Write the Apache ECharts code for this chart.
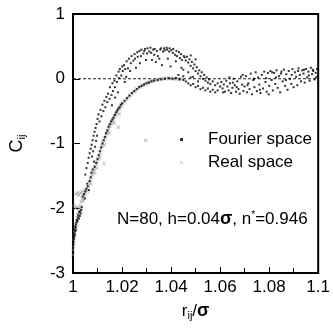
<!DOCTYPE html>
<html>
<head>
<meta charset="utf-8">
<script src="https://cdn.jsdelivr.net/npm/echarts@6/dist/echarts.min.js"></script>
<style>
html,body{margin:0;padding:0;background:#fff;}
#c{width:333px;height:330px;}
</style>
</head>
<body>
<div id="c"></div>
<script>
var xTicks = [1, 1.02, 1.04, 1.06, 1.08, 1.1];
var yTicks = [-3, -2, -1, 0, 1];
var seriesNames = ['Fourier space', 'Real space'];
var zeroLine = [[1, 0], [1.1, 0]];

var fourierSpace = [
[1.0002,-2.52],[1.0004,-2.45],[1.0006,-2.40],[1.0005,-2.33],[1.0008,-2.36],[1.0010,-2.30],[1.0012,-2.25],[1.0009,-2.28],[1.0014,-2.22],[1.0016,-2.18],[1.0018,-2.20],[1.0020,-2.14],[1.0022,-2.10],[1.0024,-2.16],[1.0026,-2.06],[1.0028,-2.12],[1.0030,-2.04],[1.0032,-2.08],[1.0034,-2.02],[1.0036,-1.98],[1.0003,-2.48],[1.0007,-2.42],[1.0011,-2.34],[1.0001,-2.56],
[1.0040,-1.82],[1.0045,-1.78],[1.0050,-1.74],[1.0055,-1.70],[1.0060,-1.66],[1.0065,-1.72],[1.0048,-1.85],[1.0058,-1.62],[1.0068,-1.58],[1.0072,-1.52],
[1.0050,-1.48],[1.0055,-1.38],[1.0060,-1.30],[1.0064,-1.22],[1.0068,-1.15],[1.0072,-1.08],[1.0076,-1.02],[1.0080,-0.95],[1.0084,-0.88],[1.0088,-0.82],[1.0092,-0.76],[1.0096,-0.70],[1.0078,-1.20],[1.0082,-1.12],[1.0086,-1.28],[1.0090,-1.05],[1.0094,-0.96],[1.0098,-0.88],
[1.0075,-1.45],[1.0080,-1.40],[1.0088,-1.36],[1.0095,-1.30],[1.0100,-1.24],[1.0105,-1.18],[1.0110,-1.12],[1.0115,-1.06],[1.0120,-1.00],[1.0125,-0.95],[1.0130,-0.90],[1.0135,-0.84],[1.0140,-0.80],[1.0145,-0.74],[1.0150,-0.70],[1.0155,-0.66],[1.0160,-0.63],[1.0165,-0.60],[1.0170,-0.56],[1.0175,-0.52],[1.0180,-0.49],[1.0185,-0.46],[1.0190,-0.44],[1.0195,-0.40],[1.0200,-0.38],[1.0210,-0.34],[1.0220,-0.30],[1.0230,-0.26],[1.0240,-0.22],[1.0250,-0.19],[1.0260,-0.16],[1.0270,-0.13],[1.0280,-0.11],[1.0290,-0.09],[1.0300,-0.07],[1.0310,-0.06],[1.0320,-0.04],[1.0330,-0.03],[1.0345,-0.02],[1.0360,-0.01],[1.0375,0.00],[1.0390,0.01],[1.0405,0.00],[1.0420,0.01],[1.0435,-0.01],[1.0450,-0.02],
[1.0100,-0.62],[1.0104,-0.55],[1.0108,-0.66],[1.0112,-0.48],[1.0116,-0.58],[1.0120,-0.40],[1.0124,-0.50],[1.0128,-0.34],[1.0132,-0.44],[1.0136,-0.28],[1.0140,-0.36],
[1.0143,-0.23],[1.0149,-0.31],[1.0151,-0.13],[1.0157,-0.25],[1.0161,-0.07],[1.0163,-0.19],[1.0169,-0.03],[1.0171,-0.13],[1.0177,0.05],[1.0179,-0.05],[1.0186,0.11],[1.0187,0.01],[1.0191,0.15],[1.0197,0.05],[1.0201,0.19],[1.0159,-0.41],[1.0172,-0.29],[1.0183,-0.21],
[1.0203,0.12],[1.0208,0.21],[1.0213,0.15],[1.0219,0.27],[1.0224,0.16],[1.0228,0.31],[1.0236,0.24],[1.0239,0.35],[1.0246,0.28],[1.0251,0.38],[1.0253,0.31],[1.0262,0.41],[1.0264,0.34],[1.0271,0.43],[1.0277,0.35],[1.0279,0.45],[1.0287,0.39],[1.0291,0.43],[1.0294,0.46],[1.0302,0.39],[1.0217,0.03],[1.0233,0.12],[1.0257,0.17],[1.0273,0.24],[1.0298,0.29],[1.0211,-0.05],
[1.0304,0.47],[1.0311,0.42],[1.0316,0.48],[1.0319,0.40],[1.0327,0.45],[1.0331,0.37],[1.0333,0.46],[1.0342,0.43],[1.0346,0.35],[1.0352,0.31],[1.0356,0.45],[1.0358,0.47],[1.0367,0.42],[1.0371,0.47],[1.0374,0.44],[1.0382,0.48],[1.0384,0.45],[1.0392,0.42],[1.0394,0.47],[1.0401,0.44],[1.0407,0.40],[1.0409,0.46],[1.0416,0.37],[1.0422,0.43],[1.0424,0.35],[1.0432,0.41],[1.0436,0.32],[1.0441,0.38],[1.0444,0.29],[1.0452,0.35],[1.0322,0.29],[1.0338,0.26],[1.0363,0.21],[1.0387,0.31],[1.0398,0.19],[1.0419,0.27],[1.0442,0.17],
[1.0455,0.33],[1.0460,0.28],[1.0465,0.34],[1.0470,0.25],[1.0475,0.30],[1.0480,0.20],[1.0485,0.26],[1.0490,0.16],[1.0495,0.22],[1.0500,0.12],[1.0505,0.18],[1.0510,0.08],[1.0515,0.13],[1.0520,0.04],[1.0525,0.10],[1.0530,0.00],[1.0535,0.06],[1.0540,-0.03],[1.0545,0.02],[1.0550,-0.06],[1.0555,-0.01],[1.0560,-0.08],[1.0570,-0.04],[1.0580,-0.10],[1.0590,-0.07],[1.0470,0.10],[1.0490,0.03],[1.0510,-0.04],[1.0450,0.14],[1.0500,0.30],[1.0480,0.36],
[1.0460,-0.04],[1.0470,-0.07],[1.0480,-0.10],[1.0490,-0.08],[1.0500,-0.13],[1.0510,-0.11],[1.0520,-0.16],[1.0530,-0.14],[1.0540,-0.18],[1.0550,-0.15],[1.0560,-0.20],[1.0570,-0.17],[1.0580,-0.21],[1.0590,-0.18],[1.0600,-0.12],[1.0430,0.06],[1.0450,0.04],[1.0480,0.02],
[1.0605,-0.05],[1.0610,-0.15],[1.0615,-0.09],[1.0620,-0.20],[1.0625,-0.03],[1.0630,-0.12],[1.0635,-0.18],[1.0640,-0.07],[1.0645,-0.22],[1.0650,-0.14],[1.0655,0.00],[1.0660,-0.10],[1.0665,-0.20],[1.0670,-0.04],[1.0675,-0.16],[1.0680,-0.23],[1.0685,0.03],[1.0690,-0.09],[1.0695,-0.19],[1.0700,-0.12],[1.0612,-0.21],[1.0638,0.02],[1.0652,-0.06],[1.0668,-0.13],[1.0692,0.06],
[1.0705,0.04],[1.0710,-0.21],[1.0715,-0.07],[1.0720,-0.16],[1.0725,0.08],[1.0730,-0.24],[1.0735,-0.02],[1.0740,-0.13],[1.0745,0.10],[1.0750,-0.19],[1.0755,0.02],[1.0760,-0.09],[1.0765,-0.22],[1.0770,0.06],[1.0775,-0.15],[1.0780,0.11],[1.0785,-0.05],[1.0790,-0.20],[1.0795,0.09],[1.0800,-0.11],[1.0712,-0.10],[1.0738,0.00],[1.0762,-0.17],[1.0788,0.01],[1.0798,-0.24],
[1.0805,0.12],[1.0810,-0.02],[1.0815,-0.18],[1.0820,0.09],[1.0825,-0.08],[1.0830,0.13],[1.0835,-0.14],[1.0840,0.04],[1.0845,-0.21],[1.0850,0.11],[1.0855,-0.04],[1.0860,0.14],[1.0865,-0.11],[1.0870,0.07],[1.0875,-0.17],[1.0880,0.12],[1.0885,0.00],[1.0890,-0.08],[1.0895,0.15],[1.0900,-0.13],[1.0812,0.10],[1.0828,0.02],[1.0848,0.08],[1.0868,-0.02],[1.0892,0.06],
[1.0905,0.10],[1.0910,0.03],[1.0915,-0.10],[1.0920,0.16],[1.0925,0.06],[1.0930,-0.04],[1.0935,0.13],[1.0940,0.08],[1.0945,-0.06],[1.0950,0.15],[1.0955,0.02],[1.0960,0.11],[1.0965,-0.03],[1.0970,0.17],[1.0975,0.07],[1.0980,0.12],[1.0985,-0.01],[1.0990,0.09],[1.0995,0.15],[1.0998,0.04],[1.0918,0.12],[1.0942,0.14],[1.0962,0.05],[1.0978,0.14],[1.0992,0.02]
];

var realSpace = [
[1.0000,-2.72],[1.0000,-2.64],[1.0002,-2.58],[1.0003,-2.50],[1.0005,-2.44],[1.0007,-2.38],[1.0009,-2.32],[1.0011,-2.26],[1.0013,-2.30],[1.0015,-2.20],[1.0018,-2.16],[1.0021,-2.10],[1.0024,-2.05],[1.0027,-2.00],[1.0030,-1.96],
[1.0012,-1.78],[1.0018,-1.76],[1.0024,-1.80],[1.0030,-1.77],[1.0036,-1.74],[1.0042,-1.79],[1.0048,-1.72],[1.0004,-1.96],[1.0010,-2.00],[1.0016,-1.98],
[1.0034,-1.90],[1.0038,-1.86],[1.0042,-1.88],[1.0046,-1.82],[1.0050,-1.76],[1.0054,-1.70],[1.0058,-1.74],[1.0062,-1.66],[1.0066,-1.60],[1.0070,-1.56],[1.0074,-1.52],[1.0078,-1.48],[1.0082,-1.44],[1.0086,-1.40],[1.0090,-1.36],[1.0094,-1.32],[1.0098,-1.28],[1.0072,-1.62],[1.0088,-1.46],[1.0096,-1.38],
[1.0102,-1.24],[1.0106,-1.19],[1.0110,-1.14],[1.0114,-1.08],[1.0118,-1.04],[1.0122,-0.99],[1.0126,-0.95],[1.0130,-0.92],[1.0134,-0.88],[1.0138,-0.84],[1.0142,-0.80],[1.0146,-0.77],[1.0150,-0.73],[1.0154,-0.70],[1.0158,-0.67],[1.0162,-0.64],[1.0166,-0.61],[1.0170,-0.58],[1.0174,-0.55],[1.0178,-0.52],[1.0182,-0.50],[1.0186,-0.47],[1.0190,-0.45],[1.0194,-0.43],[1.0198,-0.41],[1.0108,-1.22],[1.0128,-1.02],[1.0148,-0.84],[1.0168,-0.68],[1.0188,-0.55],
[1.0205,-0.38],[1.0212,-0.35],[1.0219,-0.32],[1.0226,-0.29],[1.0233,-0.26],[1.0240,-0.23],[1.0247,-0.20],[1.0254,-0.18],[1.0261,-0.16],[1.0268,-0.14],[1.0275,-0.12],[1.0282,-0.10],[1.0289,-0.09],[1.0296,-0.08],[1.0303,-0.06],[1.0310,-0.05],[1.0318,-0.04],[1.0326,-0.03],[1.0334,-0.02],[1.0342,-0.02],[1.0350,-0.01],[1.0360,0.00],[1.0370,0.00],[1.0380,0.01],[1.0390,0.00],[1.0400,0.01],[1.0410,0.00],[1.0420,0.00],[1.0430,-0.01],[1.0440,0.00],
[1.0296,-0.95],[1.0126,-1.31],[1.0185,-0.75]
];

var FONT = 'Liberation Sans';
var crossPath = 'path://M0,1L1,0L5,4L9,0L10,1L6,5L10,9L9,10L5,6L1,10L0,9L4,5Z';

var chart = echarts.init(document.getElementById('c'), null, {renderer: 'canvas'});
chart.setOption({
  animation: false,
  backgroundColor: '#ffffff',
  textStyle: {fontFamily: FONT},
  grid: {left: 68, right: 12, top: 14, bottom: 57, show: true, borderColor: '#000', borderWidth: 2, backgroundColor: 'transparent'},
  legend: {
    orient: 'vertical', left: 180, top: 131, padding: 0, itemGap: 6,
    itemWidth: 3, itemHeight: 3,
    data: [
      {name: seriesNames[0], icon: 'rect'},
      {name: seriesNames[1], icon: crossPath}
    ],
    textStyle: {fontFamily: FONT, fontSize: 17, color: '#000', padding: [0, 0, 0, 20], lineHeight: 17}
  },
  xAxis: {
    type: 'value', min: xTicks[0], max: xTicks[xTicks.length - 1], interval: 0.02,
    name: '{a|r}{s|ij}{a|/}{b|σ}', nameLocation: 'middle', nameGap: 28,
    nameTextStyle: {
      rich: {
        a: {fontSize: 17, fontFamily: FONT, color: '#000'},
        s: {fontSize: 11, fontFamily: FONT, color: '#000', padding: [9, 0, 0, 0]},
        b: {fontSize: 18, fontFamily: FONT, fontWeight: 'bold', color: '#000'}
      }
    },
    axisLine: {show: true, onZero: false, lineStyle: {color: '#000', width: 2}},
    axisTick: {show: true, inside: true, length: 6, lineStyle: {color: '#000', width: 1}},
    minorTick: {show: true, splitNumber: 2, length: 5, lineStyle: {color: '#000', width: 1}},
    splitLine: {show: false},
    axisLabel: {fontSize: 17, fontFamily: FONT, color: '#000', margin: 6,
      formatter: function (v) { return String(+v.toFixed(2)); }}
  },
  yAxis: {
    type: 'value', min: yTicks[0], max: yTicks[yTicks.length - 1], interval: 1,
    name: '{a|C}{s|ij}', nameLocation: 'middle', nameGap: 46, nameRotate: 90,
    nameTextStyle: {
      rich: {
        a: {fontSize: 18, fontFamily: FONT, color: '#000'},
        s: {fontSize: 11, fontFamily: FONT, color: '#000', padding: [9, 0, 0, 0]}
      }
    },
    axisLine: {show: true, onZero: false, lineStyle: {color: '#000', width: 2}},
    axisTick: {show: true, inside: true, length: 7, lineStyle: {color: '#000', width: 1}},
    splitLine: {show: false},
    axisLabel: {fontSize: 17, fontFamily: FONT, color: '#000', margin: 8}
  },
  graphic: [{
    type: 'text', left: 117, top: 210, silent: true,
    style: {
      text: '{a|N=80, h=0.04}{b|σ}{a|, n}{p|*}{a|=0.946}',
      rich: {
        a: {fontSize: 17, fontFamily: FONT, fill: '#000'},
        b: {fontSize: 18, fontFamily: FONT, fontWeight: 'bold', fill: '#000'},
        p: {fontSize: 10, fontFamily: FONT, fill: '#000', padding: [0, 0, 8, 0]}
      }
    }
  }],
  series: [
    {
      name: 'zero', type: 'line', data: zeroLine, symbol: 'none', silent: true,
      lineStyle: {type: [3, 2], color: '#222', width: 1}, z: 1
    },
    {
      name: seriesNames[1], type: 'scatter', data: realSpace,
      symbol: crossPath, symbolSize: 4,
      itemStyle: {color: '#8a8a8a'},
      z: 2
    },
    {
      name: seriesNames[0], type: 'scatter', data: fourierSpace,
      symbol: 'rect', symbolSize: 2,
      itemStyle: {color: '#000'},
      z: 3
    }
  ]
});
</script>
</body>
</html>
